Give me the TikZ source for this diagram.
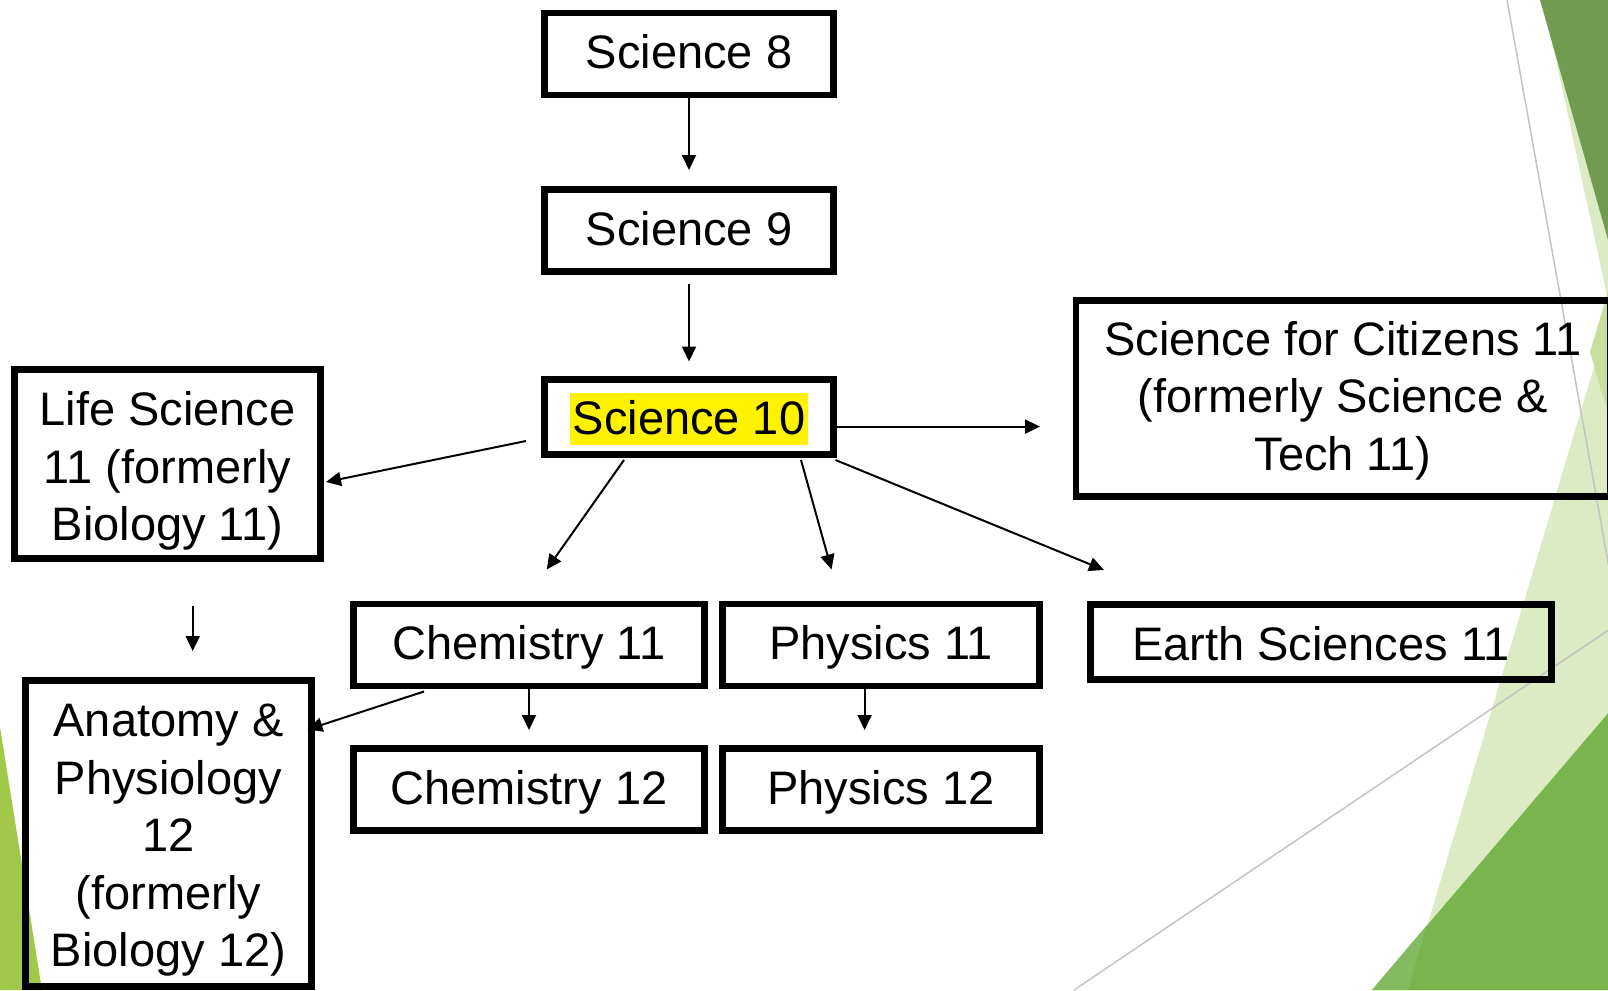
\documentclass[tikz,border=0pt]{standalone}
\usepackage{fontspec}
\setmainfont{Liberation Sans}
\usetikzlibrary{arrows.meta}
\definecolor{darkgreen}{RGB}{112,155,80}
\definecolor{palegreen}{RGB}{221,235,197}
\definecolor{limegreen}{RGB}{200,222,158}
\definecolor{brightgreen}{RGB}{122,180,76}
\definecolor{brightlight}{RGB}{132,186,96}
\definecolor{leftgreen}{RGB}{162,200,74}
\definecolor{thinline}{RGB}{195,195,195}
\newcommand\yhl[1]{{\setlength\fboxsep{0pt}\colorbox{yellow}{\rule[-11pt]{0pt}{52pt}\hspace{2.5pt}#1\hspace{2.5pt}}}}
\begin{document}
\begin{tikzpicture}[x=1pt,y=-1pt,
  box/.style={draw=black, line width=6.8pt, inner sep=0pt, outer sep=0pt, align=center,
    font=\fontsize{47}{57.5}\selectfont, text depth=0pt, text height=29pt},
  arr/.style={line width=2pt, -{Triangle[length=15pt,width=14pt]}},
  deco/.style={draw=thinline, line width=1.5pt}]
\useasboundingbox (0,0) rectangle (1608,990);
\begin{scope}
\clip (0,0) rectangle (1608,990);
% background facets
\fill[palegreen] (1543,0) -- (1608,0) -- (1608,300) -- cycle;
\fill[darkgreen] (1540,0) -- (1610,0) -- (1610,247) -- cycle;
\fill[palegreen] (1620,280) -- (1408,990) -- (1610,990) -- (1610,280) -- cycle;
\fill[limegreen] (1610,285) -- (1590,352) -- (1610,420) -- cycle;
\fill[brightgreen] (1372,990) -- (1610,711) -- (1610,990) -- cycle;
\fill[brightlight] (1372,990) -- (1427,925) -- (1408,990) -- cycle;
\fill[leftgreen] (0,727) -- (42,990) -- (0,990) -- cycle;
\draw[deco] (1507,0) -- (1610,573);
\draw[deco] (1074,990) -- (1610,629);
\end{scope}
% boxes
\node[box, minimum width=289pt, minimum height=82pt] (s8) at (689,54) {Science 8};
\node[box, minimum width=289pt, minimum height=82pt] (s9) at (689,230.5) {Science 9};
\node[box, minimum width=289pt, minimum height=75pt, text height=34pt] (s10) at (689,417) {\yhl{Science 10}};
\node[box, minimum width=306pt, minimum height=189pt, text height=153pt] (ls) at (167.5,464)
  {Life Science\\11 (formerly\\Biology 11)};
\node[box, minimum width=534pt, minimum height=196pt, text height=143.8pt] (cit) at (1343,398.4)
  {Science for Citizens 11\\(formerly Science \&\\Tech 11)};
\node[box, minimum width=351pt, minimum height=82pt] (c11) at (529,645) {Chemistry 11};
\node[box, minimum width=317.5pt, minimum height=82pt] (p11) at (881,645) {Physics 11};
\node[box, minimum width=461pt, minimum height=75pt, text height=36pt] (es) at (1321,642) {Earth Sciences 11};
\node[box, minimum width=351pt, minimum height=82pt] (c12) at (529,789.5) {Chemistry 12};
\node[box, minimum width=317.5pt, minimum height=82pt] (p12) at (881,789.5) {Physics 12};
\node[box, minimum width=286pt, minimum height=306pt, text height=266.6pt] (ap) at (168.5,833.5)
  {Anatomy \&\\Physiology\\12\\(formerly\\Biology 12)};
% connector end points
\coordinate (lsA) at (526,441);   \coordinate (lsB) at (326,482);
\coordinate (citA) at (837,426.6); \coordinate (citB) at (1040,426.6);
\coordinate (c11A) at (624,460);  \coordinate (c11B) at (546.7,569.5);
\coordinate (p11A) at (801,460);  \coordinate (p11B) at (831.5,569.5);
\coordinate (esA) at (835.5,460); \coordinate (esB) at (1104,570);
\coordinate (apA) at (192.7,605.5); \coordinate (apB) at (192.7,651);
\coordinate (capA) at (424,691.5); \coordinate (capB) at (307.5,729.5);
\coordinate (c12A) at (529,683);  \coordinate (c12B) at (529,730);
\coordinate (p12A) at (864.6,683); \coordinate (p12B) at (864.6,730);
% connectors
\draw[arr, shorten <=-2pt, shorten >=19.5pt] (s8.south) -- (s9.north);
\draw[arr, shorten <=12pt, shorten >=18pt] (s9.south) -- (s10.north);
\draw[arr] (lsA) -- (lsB);
\draw[arr] (citA) -- (citB);
\draw[arr] (c11A) -- (c11B);
\draw[arr] (p11A) -- (p11B);
\draw[arr] (esA) -- (esB);
\draw[arr] (apA) -- (apB);
\draw[arr] (capA) -- (capB);
\draw[arr] (c12A) -- (c12B);
\draw[arr] (p12A) -- (p12B);
\end{tikzpicture}
\end{document}
